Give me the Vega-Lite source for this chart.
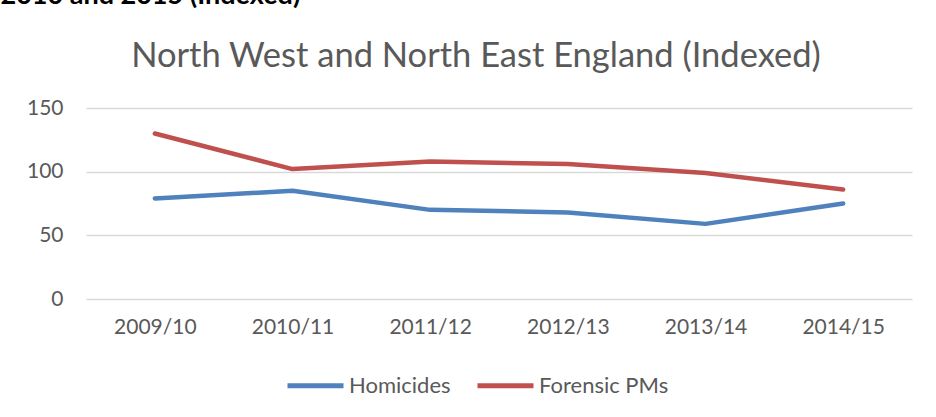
{
  "$schema": "https://vega.github.io/schema/vega-lite/v6.json",
  "width": 826,
  "height": 191,
  "autosize": "none",
  "padding": {"left": 86, "top": 108, "right": 24, "bottom": 118},
  "background": "white",
  "view": {"stroke": null},
  "title": {
    "text": "North West and North East England (Indexed)",
    "font": "Lato",
    "fontSize": 34.5,
    "fontWeight": "normal",
    "color": "#595959",
    "anchor": "middle",
    "dx": -23,
    "offset": -93
  },
  "data": {
    "values": [
      {"year": "2009/10", "series": "Homicides", "value": 79},
      {"year": "2010/11", "series": "Homicides", "value": 85},
      {"year": "2011/12", "series": "Homicides", "value": 70},
      {"year": "2012/13", "series": "Homicides", "value": 68},
      {"year": "2013/14", "series": "Homicides", "value": 59},
      {"year": "2014/15", "series": "Homicides", "value": 75},
      {"year": "2009/10", "series": "Forensic PMs", "value": 130},
      {"year": "2010/11", "series": "Forensic PMs", "value": 102},
      {"year": "2011/12", "series": "Forensic PMs", "value": 108},
      {"year": "2012/13", "series": "Forensic PMs", "value": 106},
      {"year": "2013/14", "series": "Forensic PMs", "value": 99},
      {"year": "2014/15", "series": "Forensic PMs", "value": 86}
    ]
  },
  "mark": {"type": "line", "strokeWidth": 4.5, "strokeCap": "round", "strokeJoin": "round"},
  "encoding": {
    "x": {
      "field": "year",
      "type": "ordinal",
      "sort": null,
      "scale": {"type": "point", "padding": 0.5},
      "axis": {
        "title": null,
        "domain": false,
        "ticks": false,
        "grid": false,
        "labelAngle": 0,
        "labelFont": "Lato",
        "labelFontSize": 21,
        "labelColor": "#595959",
        "labelPadding": 17
      }
    },
    "y": {
      "field": "value",
      "type": "quantitative",
      "scale": {"domain": [0, 150]},
      "axis": {
        "values": [0, 50, 100, 150],
        "domain": false,
        "ticks": false,
        "grid": true,
        "gridColor": "#D9D9D9",
        "gridWidth": 1.5,
        "labelFont": "Lato",
        "labelFontSize": 21,
        "labelColor": "#595959",
        "labelPadding": 23,
        "title": "2010 and 2015 (Indexed)",
        "titleAngle": 0,
        "titleX": -86,
        "titleY": -105,
        "titleAlign": "left",
        "titleBaseline": "alphabetic",
        "titleFont": "Lato",
        "titleFontSize": 27,
        "titleFontWeight": "bold",
        "titleColor": "#000000"
      }
    },
    "color": {
      "field": "series",
      "type": "nominal",
      "sort": ["Homicides", "Forensic PMs"],
      "scale": {"domain": ["Homicides", "Forensic PMs"], "range": ["#4F81BD", "#C0504D"]},
      "legend": {
        "title": null,
        "orient": "none",
        "legendX": 199,
        "legendY": 247,
        "direction": "horizontal",
        "symbolType": "stroke",
        "symbolSize": 3136,
        "symbolStrokeWidth": 5,
        "labelFont": "Lato",
        "labelFontSize": 22,
        "labelColor": "#595959",
        "labelOffset": 3,
        "columnPadding": 16
      }
    }
  }
}
